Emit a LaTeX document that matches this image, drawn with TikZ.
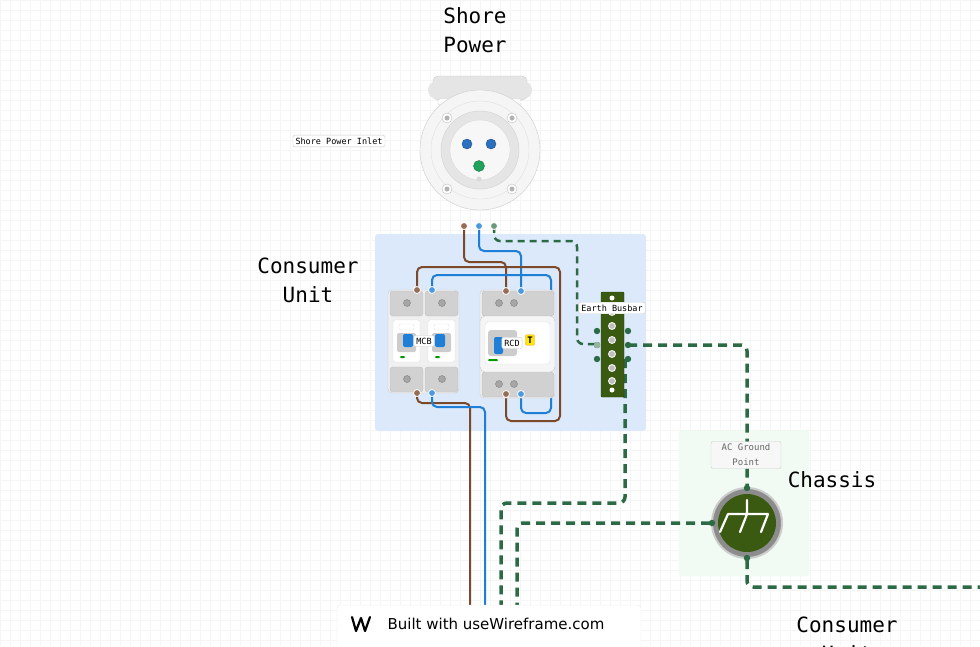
\documentclass[tikz,border=0pt]{standalone}
\usepackage{fontspec}
\setmainfont{DejaVu Sans}
\newfontfamily\monof{DejaVu Sans Mono}
\definecolor{cubg}{HTML}{DCE9FA}
\definecolor{chbg}{HTML}{F1FBF3}
\definecolor{wbrown}{HTML}{7B4A2A}
\definecolor{wblue}{HTML}{1F7FD6}
\definecolor{wgreen}{HTML}{2B6A45}
\definecolor{bbar}{HTML}{3A5A12}
\definecolor{pinblue}{HTML}{2A72C0}
\definecolor{pingreen}{HTML}{1FA35A}
\begin{document}
\begin{tikzpicture}[x=1pt,y=-1pt,
  title/.style={font=\monof\fontsize{21}{29}\selectfont,align=center},
  tag/.style={draw=black!20,fill=white,rounded corners=2pt,font=\monof\fontsize{9.5}{11}\selectfont,inner sep=2.5pt},
  brown/.style={draw=wbrown,line width=2pt,rounded corners=5pt},
  blue/.style={draw=wblue,line width=2pt,rounded corners=5pt},
  earth/.style={draw=wgreen,line width=3.5pt,dash pattern=on 9pt off 6pt,rounded corners=6pt},
  term/.style={circle,inner sep=0pt,minimum size=7pt,draw=white,line width=0.8pt},
  gblock/.style={fill=black!18,draw=black!25,rounded corners=3pt},
  screw/.style={circle,fill=black!35,draw=black!50,minimum size=7pt,inner sep=0pt}]
\useasboundingbox (0,0) rectangle (980,646);
\fill[white] (0,0) rectangle (980,646);
\foreach \i in {0,10,...,980} \draw[black!4,line width=0.3pt] (\i,0) -- (\i,646);
\foreach \i in {0,10,...,640} \draw[black!4,line width=0.3pt] (0,\i) -- (980,\i);
% inlet
\fill[black!10,draw=black!20,rounded corners=5pt] (433,76) rectangle (527,100);
\fill[black!10] (437,90) circle (9) (523,90) circle (9);
\fill[white,draw=black!15,rounded corners=2pt] (438,99) rectangle (521,105);
\filldraw[fill=black!4,draw=black!20] (480,150) circle (60);
\draw[black!12] (480,150) circle (49);
\filldraw[fill=black!10,draw=black!18] (480,150) circle (39);
\filldraw[fill=black!3,draw=black!15] (480,150) circle (30);
\foreach \p in {(447,118),(512,118),(447,189),(512,189)} {\filldraw[fill=white,draw=black!25] \p circle (5); \fill[black!30] \p circle (2.5);}
\filldraw[fill=pinblue,draw=pinblue!70!black] (467,144) circle (5);
\filldraw[fill=pinblue,draw=pinblue!70!black] (491,144) circle (5);
\filldraw[fill=pingreen,draw=pingreen!70!black] (479,166) circle (5.5);
\fill[black!15] (479,179) circle (2.5);
\node[tag,font=\monof\fontsize{8.5}{10}\selectfont] (lsi) at (339,141) {Shore Power Inlet};
% backgrounds
\fill[cubg,rounded corners=3pt] (375,234) rectangle (646,431);
\fill[chbg,draw=green!8!white,rounded corners=2pt] (679,431) rectangle (809,576);
% titles
\node[title] (tsp) at (475,30) {Shore\\Power};
\node[title] (tcu) at (308,280) {Consumer\\Unit};
\node[title] (tch) at (832,480) {Chassis};
\node[title,anchor=north] (tcu2) at (847,613) {Consumer\\Unit};
% wires shore -> RCD
\coordinate (s1) at (464,226); \coordinate (s2) at (479,226); \coordinate (s3) at (494,226);
\draw[brown] (s1) |- (506,262) -- (506,291);
\draw[blue] (s2) |- (521,251) -- (521,291);
\draw[earth,line width=2.5pt,dash pattern=on 7pt off 5pt] (s3) |- (577,241) |- (597,344);
% RCD->MCB loops
\draw[brown] (506,394) |- (560,421) |- (417,267) -- (417,290);
\draw[blue] (521,394) |- (551,413) |- (432,275) -- (432,290);
% MCB out
\draw[brown] (417,393) |- (470,403) -- (470,646);
\draw[blue] (432,393) |- (485,407) -- (485,646);
% MCB
\filldraw[fill=black!6,draw=black!20,rounded corners=4pt] (388,290) rectangle (459,393);
\foreach \x in {390,425}{
  \fill[gblock] (\x,291) rectangle (\x+33,316);
  \fill[gblock] (\x,367) rectangle (\x+33,392);
  \node[screw] at (\x+17,303) {}; \node[screw] at (\x+17,379) {};
  \filldraw[fill=white,draw=black!12,rounded corners=2pt] (\x+3,320) rectangle (\x+30,362);
  \fill[white,draw=black!10,rounded corners=2pt] (\x+9,324) rectangle (\x+24,330);
  \fill[black!20,rounded corners=2pt] (\x+7,333) rectangle (\x+26,352);
  \fill[green!60!black,rounded corners=1pt] (\x+10,356) rectangle (\x+15,358);
}
\fill[wblue,rounded corners=2pt] (403,334) rectangle (413,347);
\fill[wblue,rounded corners=2pt] (435,334) rectangle (445,347);
\node[tag,font=\monof\fontsize{8.5}{10}\selectfont] (mcb) at (424,341) {MCB};
% RCD
\filldraw[fill=black!6,draw=black!20,rounded corners=4pt] (480,290) rectangle (555,398);
\fill[gblock] (482,291) rectangle (554,316);
\fill[gblock] (482,372) rectangle (554,397);
\filldraw[fill=black!4,draw=black!22,rounded corners=5pt] (480,316) rectangle (555,372);
\filldraw[fill=white,draw=black!12,rounded corners=3pt] (485,322) rectangle (550,364);
\foreach \x in {499,514}{\node[screw] at (\x,303) {}; \node[screw] at (\x,384) {};}
\fill[black!20,rounded corners=3pt] (488,330) rectangle (517,356);
\fill[wblue,rounded corners=2pt] (494,337) rectangle (503,354);
\fill[green!60!black,rounded corners=1pt] (488,359) rectangle (498,361);
\node[tag,font=\monof\fontsize{8.5}{10}\selectfont] (rcd) at (512,343) {RCD};
\node[fill=yellow!90!orange,draw=orange!70,rounded corners=2pt,inner sep=2pt,font=\monof\bfseries\fontsize{9}{10}\selectfont] (tt) at (530,340) {T};
% terminals
\node[term,fill=wbrown!80] at (464,226) {};
\node[term,fill=wblue!80] at (479,226) {};
\node[term,fill=wgreen!70] at (494,226) {};
\foreach \y in {290,393}{\node[term,fill=wbrown!80] at (417,\y) {}; \node[term,fill=wblue!80] at (432,\y) {};}
\node[term,fill=wbrown!80] at (506,291) {}; \node[term,fill=wblue!80] at (521,291) {};
\node[term,fill=wbrown!80] at (506,394) {}; \node[term,fill=wblue!80] at (521,394) {};
% earth wires out of busbar
\draw[earth] (628,345) -| (747,487);
\draw[earth] (625,359) |- (501,503) -- (501,646);
\draw[earth] (710,523) -| (517,646);
\draw[earth] (747,560) |- (980,587);
% busbar
\fill[bbar,draw=bbar!70!black,rounded corners=1pt] (601,292) rectangle (624,397);
\fill[white] (612,298) circle (2.5) (612,390) circle (2.5);
\foreach \y in {312,326,340,354,368,381}{\filldraw[fill=black!25,draw=white,line width=0.8pt] (612,\y) circle (3.5);}
\foreach \y in {331,345,359}{\fill[wgreen] (597,\y) circle (3.2) (628,\y) circle (3.2);}
\fill[wgreen!50] (597,345) circle (3.2);
\node[tag,font=\monof\fontsize{8.5}{10}\selectfont] (leb) at (612,308) {Earth Busbar};
% ground
\filldraw[fill=black!45,draw=black!20,line width=2pt] (747,523) circle (35);
\fill[bbar] (747,523) circle (29);
\draw[white,line width=2.2pt,line cap=round] (747,500) -- (747,514) (728,514) -- (768,514) (728,514) -- (720,532) (747,514) -- (740,532) (768,514) -- (761,532);
\foreach \p in {(747,488),(747,558),(712,523)}{\fill[wgreen] \p circle (3.2);}
\node[tag,font=\monof\fontsize{9}{15}\selectfont,align=center,text=black!60,fill=black!3,minimum width=70pt] (acg) at (746,455) {AC Ground\\Point};
% watermark
\fill[white,draw=black!8,rounded corners=3pt] (337,605) rectangle (641,650);
\node[font=\fontsize{15}{17}\selectfont,anchor=west] (wm) at (384,624) {Built with useWireframe.com};
\draw[line width=2.2pt,line join=round,line cap=round] (352,617) -- (356,631) -- (361,618) -- (365,631) -- (370,617);
\end{tikzpicture}
\end{document}
